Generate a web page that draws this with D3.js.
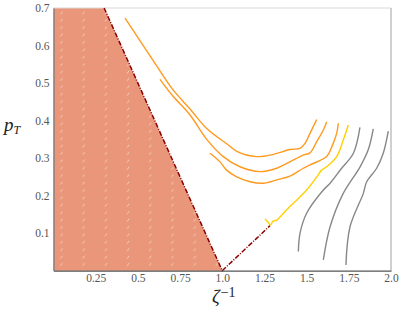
<!DOCTYPE html>
<html>
<head>
<meta charset="utf-8">
<script src="https://cdn.jsdelivr.net/npm/d3@7"></script>
<style>
  body { margin: 0; background: #fff; }
  svg { display: block; }
</style>
</head>
<body>
<svg width="399" height="311"></svg>
<script>
// x ticks and y ticks shown on the picture
var xTicks = [0.25, 0.5, 0.75, 1.0, 1.25, 1.5, 1.75, 2.0];
var xTickLabels = ['0.25', '0.5', '0.75', '1.0', '1.25', '1.5', '1.75', '2.0'];
var yTicks = [0.1, 0.2, 0.3, 0.4, 0.5, 0.6, 0.7];

// excluded region (shaded) and the dash-dot boundary
var regionPts = [[0, 0], [0, 0.7], [0.3, 0.7], [1.0, 0]];
var boundaryPts = [[0.3, 0.7], [1.0, 0], [1.283, 0.12]];

// orange curves
var curveA = [[0.424,0.673],[0.591,0.560],[0.710,0.481],[0.809,0.431],[0.908,0.379],[1.036,0.335],[1.086,0.318],[1.204,0.304],[1.303,0.310],[1.401,0.323],[1.461,0.326],[1.490,0.339],[1.520,0.366],[1.560,0.403]];
var curveB = [[0.631,0.510],[0.710,0.464],[0.809,0.415],[0.908,0.350],[1.006,0.304],[1.105,0.277],[1.224,0.264],[1.323,0.273],[1.401,0.290],[1.480,0.308],[1.520,0.314],[1.560,0.344],[1.599,0.375],[1.619,0.397]];
var curveC = [[0.927,0.313],[0.987,0.290],[1.026,0.268],[1.086,0.250],[1.165,0.237],[1.243,0.233],[1.323,0.242],[1.401,0.252],[1.480,0.273],[1.520,0.282],[1.619,0.304],[1.649,0.330],[1.678,0.366],[1.688,0.393]];
// yellow curve
var curveD = [[1.253,0.138],[1.271,0.130],[1.286,0.122],[1.301,0.132],[1.323,0.135],[1.352,0.148],[1.401,0.171],[1.441,0.188],[1.500,0.215],[1.560,0.250],[1.589,0.268],[1.619,0.277],[1.678,0.304],[1.717,0.348],[1.747,0.388]];
// grey curves
var curveE = [[1.451,0.051],[1.461,0.100],[1.500,0.153],[1.599,0.215],[1.639,0.233],[1.704,0.271],[1.777,0.313],[1.816,0.382]];
var curveF = [[1.599,0.029],[1.639,0.117],[1.717,0.206],[1.816,0.276],[1.865,0.322],[1.895,0.378]];
var curveG = [[1.733,0.015],[1.757,0.117],[1.836,0.206],[1.856,0.237],[1.915,0.273],[1.954,0.313],[1.984,0.372]];

var svg = d3.select('svg');
var padding = {t: 8, r: 8, b: 40, l: 53.5};
var chartWidth = 391 - padding.l;
var chartHeight = 270.7 - padding.t;
var serif = '"Liberation Serif", "DejaVu Serif", serif';

var xScale = d3.scaleLinear().domain([0, 2]).range([0, chartWidth]);
var yScale = d3.scaleLinear().domain([0, 0.7]).range([chartHeight, 0]);

// hatch pattern for the shaded region
var defs = svg.append('defs');
var pat = defs.append('pattern')
    .attr('id', 'hatch')
    .attr('patternUnits', 'userSpaceOnUse')
    .attr('x', 5).attr('y', 2)
    .attr('width', 22.2).attr('height', 7.4);
pat.append('rect').attr('width', 22.2).attr('height', 7.4).attr('fill', '#e9967a');
pat.append('line')
    .attr('x1', 2).attr('y1', 4.2).attr('x2', 4).attr('y2', 1.6)
    .attr('stroke', '#fbe0d6').attr('stroke-opacity', 0.8).attr('stroke-width', 0.9);

var chartG = svg.append('g')
    .attr('transform', 'translate(' + [padding.l, padding.t] + ')');

var line = d3.line()
    .x(function(d) { return xScale(d[0]); })
    .y(function(d) { return yScale(d[1]); });

chartG.append('path')
    .attr('d', line.curve(d3.curveLinear)(regionPts) + 'Z')
    .attr('fill', 'url(#hatch)');

// frame
chartG.append('line').attr('x1', 0).attr('x2', chartWidth).attr('y1', 0).attr('y2', 0)
    .attr('stroke', '#d9d9d9').attr('stroke-width', 1.2);
chartG.append('line').attr('x1', chartWidth).attr('x2', chartWidth).attr('y1', 0).attr('y2', chartHeight)
    .attr('stroke', '#b0b0b0').attr('stroke-width', 1.2);

chartG.append('path')
    .attr('d', line.curve(d3.curveLinear)(boundaryPts))
    .attr('fill', 'none')
    .attr('stroke', '#8b0000')
    .attr('stroke-width', 1.5)
    .attr('stroke-dasharray', '5,1.5,1,1.5');

var curves = [
    {pts: curveA, color: '#ff9a1f'},
    {pts: curveB, color: '#ff9a1f'},
    {pts: curveC, color: '#ff9a1f'},
    {pts: curveD, color: '#ffd000'},
    {pts: curveE, color: '#888888'},
    {pts: curveF, color: '#888888'},
    {pts: curveG, color: '#888888'}
];

chartG.selectAll('.curve')
    .data(curves)
    .enter()
    .append('path')
    .attr('class', 'curve')
    .attr('d', function(d) { return line.curve(d3.curveCatmullRom)(d.pts); })
    .attr('fill', 'none')
    .attr('stroke', function(d) { return d.color; })
    .attr('stroke-width', 1.4);

// axes
var xAxisG = chartG.append('g')
    .attr('class', 'x axis')
    .attr('transform', 'translate(' + [0, chartHeight] + ')')
    .call(d3.axisBottom(xScale).tickValues(xTicks).tickSize(0).tickPadding(3)
        .tickFormat(function(d, i) { return xTickLabels[i]; }));
var yAxisG = chartG.append('g')
    .attr('class', 'y axis')
    .call(d3.axisLeft(yScale).tickValues(yTicks).tickSize(0).tickPadding(4)
        .tickFormat(d3.format('.1f')));

chartG.selectAll('.axis text')
    .attr('font-family', serif)
    .attr('font-size', 11.5)
    .attr('fill', '#555');

xAxisG.select('.domain').attr('stroke', '#555').attr('stroke-width', 1.2);
yAxisG.select('.domain').attr('stroke', '#777').attr('stroke-width', 1.2);

// axis titles
var yTitle = svg.append('text')
    .attr('x', 4).attr('y', 131)
    .attr('font-family', serif)
    .attr('font-style', 'italic')
    .attr('font-size', 19)
    .attr('fill', '#222');
yTitle.append('tspan').text('p');
yTitle.append('tspan').attr('font-size', 12).attr('dy', 3).text('T');

var xTitle = svg.append('text')
    .attr('x', 212).attr('y', 303)
    .attr('font-family', serif)
    .attr('font-size', 19)
    .attr('fill', '#222');
xTitle.append('tspan').attr('font-style', 'italic').text('ζ');
xTitle.append('tspan').attr('font-size', 14).attr('dy', -6).attr('dx', 1).text('−1');
</script>
</body>
</html>
